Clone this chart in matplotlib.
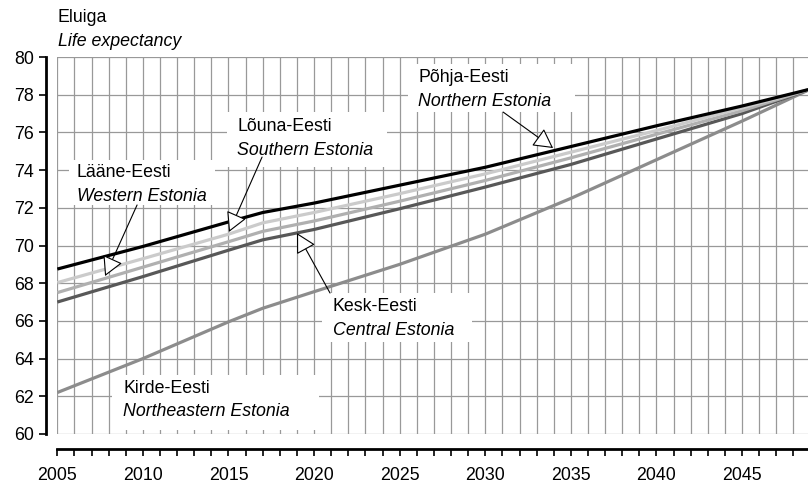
import matplotlib.pyplot as plt
from matplotlib.patches import Rectangle
import numpy as np

# Life expectancy forecast by region
years = [2005, 2010, 2015, 2017, 2020, 2025, 2030, 2035, 2040, 2045, 2049]
pohja = [68.75, 69.95, 71.25, 71.75, 72.25, 73.2, 74.15, 75.25, 76.35, 77.4, 78.3]
louna = [68.03, 69.3, 70.6, 71.2, 71.75, 72.75, 73.8, 74.95, 76.1, 77.3, 78.3]
laane = [67.5, 68.85, 70.2, 70.75, 71.3, 72.35, 73.45, 74.65, 75.9, 77.15, 78.3]
kesk = [67.0, 68.35, 69.75, 70.3, 70.85, 71.95, 73.1, 74.3, 75.65, 77.0, 78.3]
kirde = [62.2, 64.0, 65.95, 66.67, 67.55, 69.0, 70.6, 72.5, 74.55, 76.6, 78.3]

plt.rcParams['font.family'] = ['Liberation Sans', 'DejaVu Sans']
FS = 12.8

fig = plt.figure(figsize=(8.08, 4.84), dpi=100)
ax = fig.add_axes([57.3 / 808, 50 / 484, 1 - 57.3 / 808, 377 / 484])

ax.set_xlim(2005, 2048.85)
ax.set_ylim(60, 80)

# grid: every year vertically, every 2 units horizontally
for yr in range(2005, 2049):
    ax.axvline(yr, color='#999999', lw=0.9, zorder=0.5)
for v in range(60, 81, 2):
    ax.axhline(v, color='#999999', lw=0.9, zorder=0.5)

# series
LW = 2.3
ax.plot(years, kirde, color='#8c8c8c', lw=LW, zorder=2, solid_capstyle='butt')
ax.plot(years, kesk, color='#585858', lw=LW, zorder=2, solid_capstyle='butt')
ax.plot(years, laane, color='#b0b0b0', lw=LW, zorder=2, solid_capstyle='butt')
ax.plot(years, louna, color='#cbcbcb', lw=LW, zorder=2, solid_capstyle='butt')
ax.plot(years, pohja, color='#000000', lw=LW, zorder=2, solid_capstyle='butt')

# white label boxes that hide the grid
boxes = [
    (2005.7, 72.15, 8.5, 2.4),    # Lääne
    (2014.9, 74.16, 9.35, 2.92),  # Lõuna
    (2025.5, 77.08, 9.75, 2.55),  # Põhja
    (2020.46, 64.88, 8.76, 2.6),  # Kesk
    (2008.2, 60.21, 12.1, 2.92),  # Kirde
]
for bx, by, bw, bh in boxes:
    ax.add_patch(Rectangle((bx, by), bw, bh, fc='white', ec='none', zorder=1))

labels = [
    (2006.15, 73.85, 'Lääne-Eesti', 'Western Estonia'),
    (2015.5, 76.29, 'Lõuna-Eesti', 'Southern Estonia'),
    (2026.07, 78.89, 'Põhja-Eesti', 'Northern Estonia'),
    (2021.1, 66.74, 'Kesk-Eesti', 'Central Estonia'),
    (2008.84, 62.44, 'Kirde-Eesti', 'Northeastern Estonia'),
]
for tx, ty, et, en in labels:
    ax.text(tx, ty, et, fontsize=FS, ha='left', va='center', zorder=3)
    ax.text(tx, ty - 1.27, en, fontsize=FS, style='italic', ha='left', va='center', zorder=3)

# arrows from labels to lines
arrows = [
    ((2007.79, 68.38), (2009.66, 72.15)),
    ((2015.03, 70.72), (2016.96, 74.69)),
    ((2019.0, 70.66), (2020.93, 67.48)),
    ((2033.96, 75.17), (2031.04, 77.08)),
]
for tip, tail in arrows:
    ax.annotate('', xy=tip, xytext=tail, zorder=4,
                arrowprops=dict(arrowstyle='-|>,head_length=0.55,head_width=0.3',
                                fc='white', ec='black', lw=0.8,
                                mutation_scale=22, shrinkA=0, shrinkB=0))

# axes styling
for s in ['top', 'right']:
    ax.spines[s].set_visible(False)
ax.spines['left'].set_position(('outward', 8))
ax.spines['bottom'].set_position(('outward', 11))
ax.spines['left'].set_linewidth(2)
ax.spines['bottom'].set_linewidth(2)

ax.set_yticks(np.arange(60, 81, 2))
ax.set_xticks(range(2005, 2049, 5))
ax.set_xticks(range(2005, 2049), minor=True)
ax.tick_params(axis='both', labelsize=FS, width=1.2, length=5, color='black')
ax.tick_params(axis='x', which='minor', width=1.2, length=5)
ax.tick_params(axis='x', pad=8)
ax.tick_params(axis='y', pad=4)

fig.text(58 / 808, 1 - 17 / 484, 'Eluiga', fontsize=FS, ha='left', va='center')
fig.text(58 / 808, 1 - 42 / 484, 'Life expectancy', fontsize=FS, style='italic',
         ha='left', va='center')

fig.savefig('out.png', dpi=100)
